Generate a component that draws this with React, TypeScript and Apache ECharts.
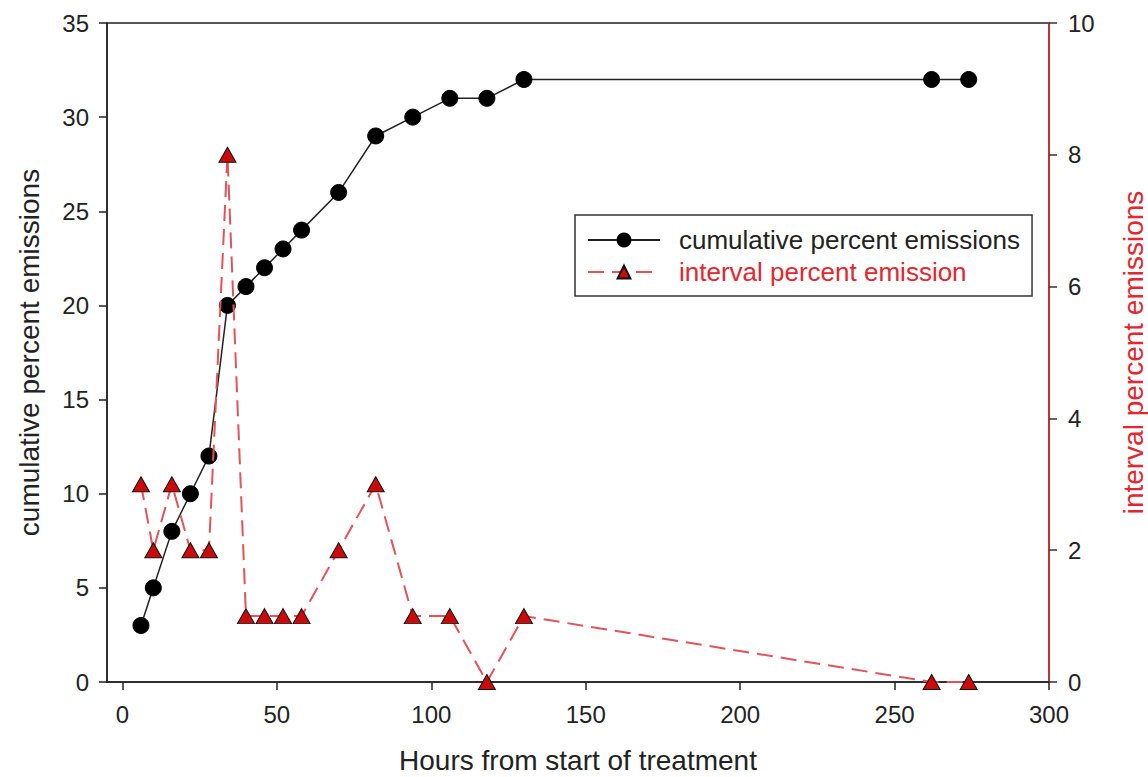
import React, { useEffect, useRef } from "react";
import * as echarts from "echarts";

const hours = [6, 10, 16, 22, 28, 34, 40, 46, 52, 58, 70, 82, 94, 106, 118, 130, 262, 274];
const cumulative = [3, 5, 8, 10, 12, 20, 21, 22, 23, 24, 26, 29, 30, 31, 31, 32, 32, 32];
const interval = [3, 2, 3, 2, 2, 8, 1, 1, 1, 1, 2, 3, 1, 1, 0, 1, 0, 0];
const xTicks = [0, 50, 100, 150, 200, 250, 300];
const cumName = "cumulative percent emissions";
const intName = "interval percent emission";

const FONT = "Liberation Sans, Arial, sans-serif";
const RED = "#e3262f";

export default function App() {
  const ref = useRef<HTMLDivElement>(null);
  useEffect(() => {
    const chart = echarts.init(ref.current!, null, { renderer: "svg" });
    chart.setOption({
      animation: false,
      textStyle: { fontFamily: FONT },
      grid: {
        left: 107,
        right: 99,
        top: 23,
        bottom: 95,
        outerBoundsMode: "none",
        containLabel: false,
        show: true,
        borderColor: "#222",
        borderWidth: 1.5,
      },
      legend: {
        orient: "vertical",
        left: 575,
        top: 215,
        padding: [12, 12, 11, 12],
        borderColor: "#333",
        borderWidth: 1.5,
        itemWidth: 72,
        itemHeight: 16,
        itemGap: 6,
        textStyle: { fontSize: 26, fontFamily: FONT, padding: [0, 0, 0, 14] },
        data: [
          { name: cumName, textStyle: { color: "#222" } },
          { name: intName, textStyle: { color: RED } },
        ],
      },
      xAxis: {
        type: "value",
        min: -5,
        max: 300,
        name: "Hours from start of treatment",
        nameLocation: "middle",
        nameGap: 64,
        nameTextStyle: { fontSize: 28, color: "#222", fontFamily: FONT },
        splitLine: { show: false },
        axisLine: { onZero: false, lineStyle: { color: "#222", width: 1.5 } },
        axisTick: { show: true, inside: false, length: 8, customValues: xTicks, lineStyle: { color: "#222", width: 1.5 } },
        axisLabel: { customValues: xTicks, fontSize: 24, color: "#222", margin: 20, fontFamily: FONT },
      },
      yAxis: [
        {
          type: "value",
          min: 0,
          max: 35,
          interval: 5,
          position: "left",
          name: "cumulative percent emissions",
          nameLocation: "middle",
          nameGap: 64,
          nameRotate: 90,
          nameTextStyle: { fontSize: 28, color: "#222", fontFamily: FONT },
          splitLine: { show: false },
          axisLine: { show: true, onZero: false, lineStyle: { color: "#222", width: 1.5 } },
          axisTick: { show: true, length: 8, lineStyle: { color: "#222", width: 1.5 } },
          axisLabel: { fontSize: 24, color: "#222", margin: 18, fontFamily: FONT },
        },
        {
          type: "value",
          min: 0,
          max: 10,
          interval: 2,
          position: "right",
          name: "interval percent emissions",
          nameLocation: "middle",
          nameGap: 70,
          nameRotate: 90,
          nameTextStyle: { fontSize: 28, color: RED, fontFamily: FONT },
          splitLine: { show: false },
          axisLine: { show: true, onZero: false, lineStyle: { color: RED, width: 1.5 } },
          axisTick: { show: true, length: 8, lineStyle: { color: "#333", width: 1.5 } },
          axisLabel: { fontSize: 24, color: "#222", margin: 19, fontFamily: FONT },
        },
      ],
      series: [
        {
          name: cumName,
          type: "line",
          yAxisIndex: 0,
          data: hours.map((h, i) => [h, cumulative[i]]),
          symbol: "circle",
          symbolSize: 16,
          lineStyle: { color: "#222", width: 1.5 },
          itemStyle: { color: "#000", borderColor: "#000", borderWidth: 1 },
          z: 2,
        },
        {
          name: intName,
          type: "line",
          yAxisIndex: 1,
          data: hours.map((h, i) => [h, interval[i]]),
          symbol: "triangle",
          symbolSize: [17, 15],
          lineStyle: { color: "#e4525c", width: 2, type: [16, 8] },
          itemStyle: { color: "#cc0a0a", borderColor: "#111", borderWidth: 1 },
          z: 3,
        },
      ],
    });
    return () => chart.dispose();
  }, []);
  return (
    <div
      ref={ref}
      style={{ position: "fixed", left: 0, top: 0, width: 1148, height: 777, background: "#fff" }}
    />
  );
}
